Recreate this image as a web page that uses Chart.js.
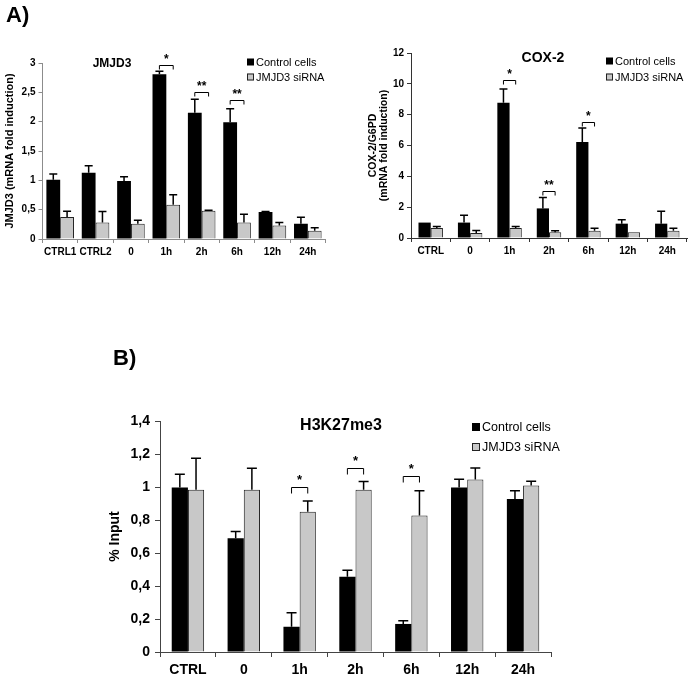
<!DOCTYPE html>
<html>
<head>
<meta charset="utf-8">
<script src="https://cdn.jsdelivr.net/npm/chart.js@4.4.0/dist/chart.umd.min.js"></script>
<style>
  body { margin: 0; background: #fff; }
  #page { position: relative; width: 689px; height: 677px; overflow: hidden; }
  #page canvas { position: absolute; left: 0; top: 0; }
  .panel { position: absolute; font: bold 22px "Liberation Sans", Arial, sans-serif; line-height: 1; color: #000; }
</style>
</head>
<body>
<div id="page">
  <canvas id="jmjdChart" width="689" height="677"></canvas>
  <canvas id="coxChart" width="689" height="677"></canvas>
  <canvas id="h3Chart" width="689" height="677"></canvas>
  <div class="panel" style="left:6px; top:4px;">A)</div>
  <div class="panel" style="left:113px; top:347px;">B)</div>
</div>
<script>
// JMJD3 panel
const jmjdLabels = ['CTRL1', 'CTRL2', '0', '1h', '2h', '6h', '12h', '24h'];
const jmjdControl = [1.01, 1.13, 0.99, 2.81, 2.15, 1.99, 0.46, 0.26];
const jmjdControlErr = [0.10, 0.12, 0.07, 0.05, 0.23, 0.23, 0.01, 0.11];
const jmjdSirna = [0.375, 0.28, 0.26, 0.585, 0.48, 0.28, 0.23, 0.14];
const jmjdSirnaErr = [0.10, 0.19, 0.06, 0.17, 0.01, 0.14, 0.05, 0.05];
const jmjdTicks = ['0', '0,5', '1', '1,5', '2', '2,5', '3'];
const jmjdSigIndex = [3, 4, 5];
const jmjdSigLevel = [2.97, 2.51, 2.37];
const jmjdSigText = ['*', '**', '**'];

// COX-2 panel
const coxLabels = ['CTRL', '0', '1h', '2h', '6h', '12h', '24h'];
const coxControl = [1.0, 1.0, 8.77, 1.92, 6.23, 0.93, 0.93];
const coxControlErr = [0, 0.47, 0.9, 0.7, 0.9, 0.26, 0.8];
const coxSirna = [0.65, 0.32, 0.65, 0.37, 0.47, 0.37, 0.47];
const coxSirnaErr = [0.1, 0.17, 0.1, 0.1, 0.17, 0, 0.16];
const coxTicks = ['0', '2', '4', '6', '8', '10', '12'];
const coxSigIndex = [2, 3, 4];
const coxSigLevel = [10.25, 3.07, 7.5];
const coxSigText = ['*', '**', '*'];

// H3K27me3 panel
const h3Labels = ['CTRL', '0', '1h', '2h', '6h', '12h', '24h'];
const h3Control = [0.997, 0.69, 0.153, 0.456, 0.17, 0.997, 0.928];
const h3ControlErr = [0.08, 0.04, 0.085, 0.04, 0.02, 0.05, 0.05];
const h3Sirna = [0.984, 0.984, 0.85, 0.984, 0.827, 1.045, 1.009];
const h3SirnaErr = [0.19, 0.13, 0.065, 0.05, 0.15, 0.07, 0.026];
const h3Ticks = ['0', '0,2', '0,4', '0,6', '0,8', '1', '1,2', '1,4'];
const h3SigIndex = [2, 3, 4];
const h3SigLevel = [1.0, 1.113, 1.067];
const h3SigText = ['*', '*', '*'];

const seriesNames = ['Control cells', 'JMJD3 siRNA'];
const FONT = '"Liberation Sans", Arial, sans-serif';
const GREY = '#c8c8c8';

// error bars, brackets, title and legend drawn on top of the bars
const extrasPlugin = {
    id: 'extras',
    afterDatasetsDraw(chart, args, opts) {
        const ctx = chart.ctx;
        const y = chart.scales.y;
        ctx.save();
        ctx.strokeStyle = '#000';
        ctx.lineWidth = opts.errWidth;
        chart.data.datasets.forEach((ds, d) => {
            const meta = chart.getDatasetMeta(d);
            meta.data.forEach((bar, i) => {
                const err = ds.errors[i];
                if (!err) return;
                const top = y.getPixelForValue(ds.data[i] + err);
                ctx.beginPath();
                ctx.moveTo(bar.x, bar.y);
                ctx.lineTo(bar.x, top);
                ctx.moveTo(bar.x - opts.cap / 2, top);
                ctx.lineTo(bar.x + opts.cap / 2, top);
                ctx.stroke();
            });
        });

        // significance brackets
        const m0 = chart.getDatasetMeta(0), m1 = chart.getDatasetMeta(1);
        ctx.lineWidth = 1;
        ctx.fillStyle = '#000';
        ctx.textAlign = 'center';
        ctx.textBaseline = 'middle';
        ctx.font = 'bold ' + opts.starSize + 'px ' + FONT;
        opts.sigIndex.forEach((idx, k) => {
            const x0 = m0.data[idx].x, x1 = m1.data[idx].x;
            const yy = Math.round(y.getPixelForValue(opts.sigLevel[k])) + 0.5;
            ctx.beginPath();
            ctx.moveTo(x0, yy + opts.leg);
            ctx.lineTo(x0, yy);
            ctx.lineTo(x1, yy);
            ctx.lineTo(x1, yy + opts.leg);
            ctx.stroke();
            ctx.fillText(opts.sigText[k], (x0 + x1) / 2, yy - opts.starGap);
        });

        // title
        ctx.font = 'bold ' + opts.titleSize + 'px ' + FONT;
        ctx.fillText(opts.title, opts.titleX, opts.titleY);

        // legend
        ctx.textAlign = 'left';
        ctx.font = opts.legendSize + 'px ' + FONT;
        const s = opts.box;
        opts.legendRows.forEach((ry, r) => {
            if (r === 0) {
                ctx.fillStyle = '#000';
                ctx.fillRect(opts.legendX, ry - s / 2, s, s);
            } else {
                ctx.fillStyle = GREY;
                ctx.fillRect(opts.legendX, ry - s / 2, s, s);
                ctx.strokeStyle = '#222';
                ctx.strokeRect(opts.legendX + 0.5, ry - s / 2 + 0.5, s - 1, s - 1);
            }
            ctx.fillStyle = '#000';
            ctx.fillText(seriesNames[r], opts.legendX + s + 2, ry + 1);
        });
        ctx.restore();
    }
};

function makeChart(id, cfg) {
    const ctx = document.getElementById(id).getContext('2d');
    const tickFont = { family: FONT, size: cfg.tickSize, weight: 'bold' };
    return new Chart(ctx, {
        type: 'bar',
        data: {
            labels: cfg.labels,
            datasets: [{
                data: cfg.control,
                errors: cfg.controlErr,
                backgroundColor: '#000',
                borderColor: '#000',
                borderWidth: 0,
                barPercentage: 1,
                categoryPercentage: cfg.catPct
            }, {
                data: cfg.sirna,
                errors: cfg.sirnaErr,
                backgroundColor: GREY,
                borderColor: '#222',
                borderWidth: 1,
                barPercentage: 1,
                categoryPercentage: cfg.catPct
            }]
        },
        options: {
            responsive: false,
            animation: false,
            events: [],
            layout: {
                padding: {
                    left: cfg.area.left - cfg.yW,
                    right: 689 - cfg.area.right,
                    top: cfg.area.top,
                    bottom: 677 - cfg.area.bottom - cfg.xH
                }
            },
            plugins: {
                legend: { display: false },
                tooltip: { enabled: false },
                extras: cfg.extras
            },
            scales: {
                x: {
                    grid: { offset: true, drawOnChartArea: false, tickLength: cfg.xTickLen, color: cfg.axisColor },
                    border: { color: cfg.axisColor },
                    ticks: { font: tickFont, color: '#000', padding: cfg.xPad, autoSkip: false, maxRotation: 0 },
                    afterFit(s) { s.height = cfg.xH; s.paddingLeft = 0; s.paddingRight = 0; }
                },
                y: {
                    min: 0,
                    max: cfg.max,
                    grid: { drawOnChartArea: false, tickLength: cfg.yTickLen, color: cfg.axisColor },
                    border: { color: cfg.axisColor },
                    ticks: {
                        stepSize: cfg.step,
                        font: tickFont,
                        color: '#000',
                        padding: cfg.yPad,
                        callback: (v, i) => cfg.ticks[i]
                    },
                    title: {
                        display: true,
                        text: cfg.yTitle,
                        color: '#000',
                        padding: 0,
                        font: { family: FONT, size: cfg.yTitleSize, weight: 'bold', lineHeight: cfg.yTitleLH }
                    },
                    afterFit(s) { s.width = cfg.yW; s.paddingTop = 0; s.paddingBottom = 0; }
                }
            }
        },
        plugins: [extrasPlugin]
    });
}

makeChart('jmjdChart', {
    labels: jmjdLabels, control: jmjdControl, controlErr: jmjdControlErr,
    sirna: jmjdSirna, sirnaErr: jmjdSirnaErr, ticks: jmjdTicks,
    max: 3, step: 0.5, catPct: 0.78,
    area: { left: 42.5, right: 325.5, top: 63, bottom: 239 },
    yW: 39, xH: 30, tickSize: 10, xTickLen: 4, xPad: 3, yTickLen: 4, yPad: 3,
    axisColor: '#8c8c8c',
    yTitle: 'JMJD3 (mRNA fold induction)', yTitleSize: 11, yTitleLH: 1.2,
    extras: {
        errWidth: 1.5, cap: 8, leg: 4, starSize: 12, starGap: 6,
        sigIndex: jmjdSigIndex, sigLevel: jmjdSigLevel, sigText: jmjdSigText,
        title: 'JMJD3', titleSize: 12, titleX: 112, titleY: 64,
        legendX: 247, legendRows: [62, 77], legendSize: 11, box: 7
    }
});

makeChart('coxChart', {
    labels: coxLabels, control: coxControl, controlErr: coxControlErr,
    sirna: coxSirna, sirnaErr: coxSirnaErr, ticks: coxTicks,
    max: 12, step: 2, catPct: 0.62,
    area: { left: 411, right: 687, top: 53, bottom: 238 },
    yW: 43, xH: 30, tickSize: 10, xTickLen: 4, xPad: 3, yTickLen: 4, yPad: 3,
    axisColor: '#333',
    yTitle: ['COX-2/G6PD', '(mRNA fold induction)'], yTitleSize: 10.5, yTitleLH: 1.0,
    extras: {
        errWidth: 1.5, cap: 8, leg: 4, starSize: 12, starGap: 6,
        sigIndex: coxSigIndex, sigLevel: coxSigLevel, sigText: coxSigText,
        title: 'COX-2', titleSize: 14, titleX: 543, titleY: 58,
        legendX: 606, legendRows: [61, 77], legendSize: 11, box: 7
    }
});

makeChart('h3Chart', {
    labels: h3Labels, control: h3Control, controlErr: h3ControlErr,
    sirna: h3Sirna, sirnaErr: h3SirnaErr, ticks: h3Ticks,
    max: 1.4, step: 0.2, catPct: 0.58,
    area: { left: 160, right: 551, top: 421, bottom: 652 },
    yW: 53.4, xH: 25, tickSize: 14, xTickLen: 5, xPad: 5, yTickLen: 5, yPad: 5,
    axisColor: '#444',
    yTitle: '% Input', yTitleSize: 14, yTitleLH: 1.2,
    extras: {
        errWidth: 1.5, cap: 10, leg: 6, starSize: 13, starGap: 7,
        sigIndex: h3SigIndex, sigLevel: h3SigLevel, sigText: h3SigText,
        title: 'H3K27me3', titleSize: 16, titleX: 341, titleY: 426,
        legendX: 472, legendRows: [427, 447], legendSize: 12.5, box: 8
    }
});
</script>
</body>
</html>
